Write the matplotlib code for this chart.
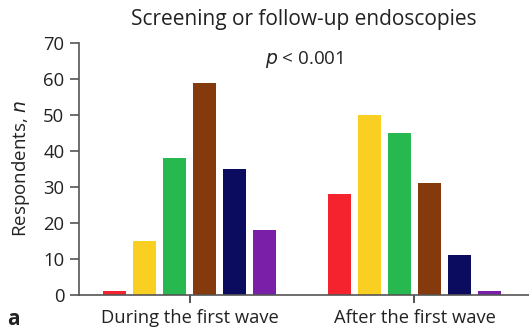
import matplotlib.pyplot as plt
import numpy as np

plt.rcParams['font.family'] = ['Open Sans', 'DejaVu Sans']

groups = ["During the first wave", "After the first wave"]
during = [1, 15, 38, 59, 35, 18]
after = [28, 50, 45, 31, 11, 1]
colors = ["#f5232e", "#f9cf22", "#27b850", "#843a0d", "#0b0b60", "#7a1fa8"]
yticks = [0, 10, 20, 30, 40, 50, 60, 70]


def main():
    fig = plt.figure(figsize=(5.29, 3.36), dpi=100)
    ax = fig.add_axes([0.1493, 0.122, 0.8507, 0.75])

    pitch = 0.1336
    width = 0.1025
    offsets = (np.arange(6) - 2.5) * pitch
    for i, vals in enumerate([during, after]):
        ax.bar(i + offsets, vals, width=width, color=colors, zorder=2)

    ax.set_xlim(-0.494, 1.51)
    ax.set_ylim(0, 70)
    ax.set_yticks(yticks)
    ax.set_xticks([0, 1])
    ax.set_xticklabels(groups)

    for spine in ['top', 'right']:
        ax.spines[spine].set_visible(False)
    for spine in ['left', 'bottom']:
        ax.spines[spine].set_color('#555555')
        ax.spines[spine].set_linewidth(1.2)
    ax.tick_params(axis='y', length=6.5, width=1.2, color='#555555',
                   labelsize=13.3, labelcolor='#222222', pad=4)
    ax.tick_params(axis='x', length=6, width=1.2, color='#333333',
                   labelsize=13.2, labelcolor='#222222', pad=4)

    ax.set_ylabel("Respondents, $\\mathit{n}$", fontsize=13.5, color='#222222', labelpad=8)
    ax.set_title("Screening or follow-up endoscopies", fontsize=15, color='#222222', pad=13)
    ax.text(0.51, 65.3, "$\\mathit{p}$ < 0.001", fontsize=13.5, ha='center', va='center',
            color='#222222')
    fig.text(0.026, 0.05, "a", fontsize=15, fontweight='bold', ha='center', va='center',
             color='#222222')

    fig.savefig("out.png", dpi=100)


if __name__ == '__main__':
    main()
